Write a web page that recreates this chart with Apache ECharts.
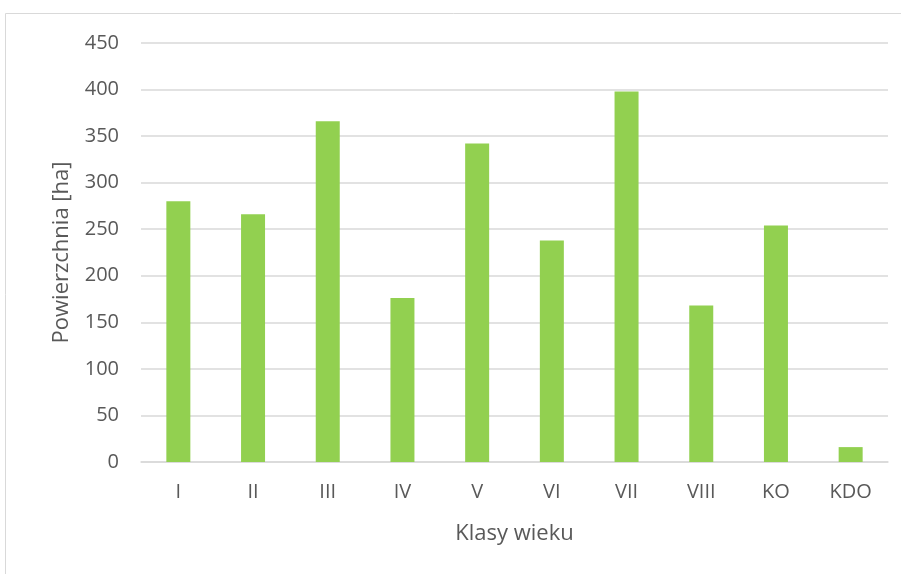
<!DOCTYPE html>
<html><head><meta charset="utf-8">
<script src="https://cdn.jsdelivr.net/npm/echarts@6/dist/echarts.min.js"></script>
<style>html,body{margin:0;padding:0;background:#fff}#c{width:901px;height:574px}</style>
</head><body><div id="c"></div>
<script>
const categories = ['I','II','III','IV','V','VI','VII','VIII','KO','KDO'];
const values = [280, 266, 366, 176, 342, 238, 398, 168, 254, 16];
const yTicks = [0, 450, 50];
const chart = echarts.init(document.getElementById('c'), null, {renderer:'canvas'});
const font = '"Open Sans", "Liberation Sans", sans-serif';
chart.setOption({
  animation:false,
  graphic:[{type:'rect', shape:{x:5.5,y:13.5,width:900,height:600}, style:{fill:'none',stroke:'#d9d9d9',lineWidth:1}, silent:true}],
  grid:{left:141,right:13,top:43,bottom:112,containLabel:false},
  xAxis:{type:'category',data:categories,
    axisLine:{lineStyle:{color:'#d9d9d9',width:1.5}},axisTick:{show:false},
    axisLabel:{color:'#595959',fontSize:20,fontFamily:font,margin:20},
    name:'Klasy wieku',nameLocation:'middle',nameGap:61,
    nameTextStyle:{color:'#595959',fontSize:22,fontFamily:font}},
  yAxis:{type:'value',min:yTicks[0],max:yTicks[1],interval:yTicks[2],
    axisLine:{show:false},axisTick:{show:false},
    splitLine:{lineStyle:{color:'#d9d9d9',width:1.5}},
    axisLabel:{color:'#595959',fontSize:20,fontFamily:font,margin:22},
    name:'Powierzchnia [ha]',nameLocation:'middle',nameGap:68,nameRotate:90,
    nameTextStyle:{color:'#595959',fontSize:22,fontFamily:font}},
  series:[{type:'bar',data:values,barWidth:24,itemStyle:{color:'#92D050'}}]
});
</script></body></html>
